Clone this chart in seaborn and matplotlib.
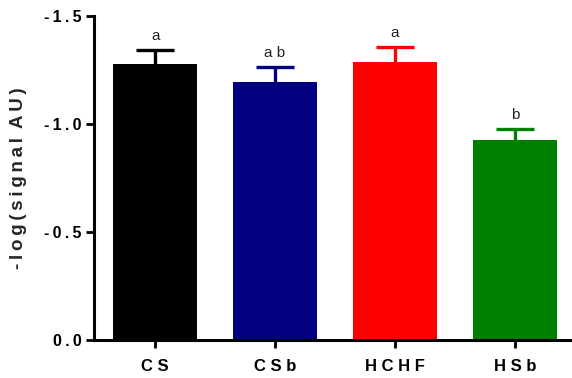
import matplotlib
matplotlib.use("Agg")
import matplotlib.pyplot as plt
import seaborn as sns
import pandas as pd
import numpy as np

# Group means of -log(signal) and their standard errors
groups = ["C S", "C S b", "H C H F", "H S b"]
means = [-1.278, -1.194, -1.287, -0.926]
sems = [0.066, 0.070, 0.070, 0.051]
letters = ["a", "a b", "a", "b"]
colors = ["#000000", "#000080", "#FF0000", "#008000"]

TS = "\u2009"  # thin space used for letter tracking
yticks = [0.0, -0.5, -1.0, -1.5]
ytick_labels = [TS.join(s) for s in ["0.0", "-0.5", "-1.0", "-1.5"]]
ylabel = TS.join("-log(signal") + " " + TS + TS.join("AU)")

sns.set_theme(style="ticks")
plt.rcParams["font.family"] = ["Liberation Sans", "DejaVu Sans"]

df = pd.DataFrame({"group": groups, "value": means})

fig = plt.figure(figsize=(5.72, 3.78), dpi=100)
ax = fig.add_axes([94 / 572, 38 / 378, 476 / 572, 324 / 378])

sns.barplot(data=df, x="group", y="value", hue="group", palette=colors,
            legend=False, errorbar=None, width=0.7, saturation=1,
            linewidth=0, ax=ax)

# one-sided error bars extending away from zero
xpos = np.arange(len(groups))
for x, m, s, c in zip(xpos, means, sems, colors):
    _, caps, _ = ax.errorbar(x, m, yerr=[[s], [0]], fmt="none", ecolor=c,
                             elinewidth=2.4, capsize=14, capthick=2.4,
                             zorder=0.5)
    for cap in caps:
        if np.isclose(cap.get_ydata()[0], m):
            cap.set_visible(False)

for x, m, s, lab in zip(xpos, means, sems, letters):
    ax.annotate(lab, (x, m - s), xytext=(0, 5), textcoords="offset points",
                ha="center", va="bottom", fontsize=11, color="#222222")

ax.set_ylim(0, -1.5)
ax.set_xlim(-0.51, 3.46)
ax.set_yticks(yticks)
ax.set_yticklabels(ytick_labels)
ax.set_xticks(xpos)
ax.set_xticklabels(groups)
for t in ax.get_yticklabels():
    t.set_fontsize(11.5)
    t.set_fontweight("bold")
for t in ax.get_xticklabels():
    t.set_fontsize(12)
    t.set_fontweight("bold")
ax.set_xlabel("")
ax.set_ylabel(ylabel, fontsize=13.5, fontweight="bold", labelpad=12)

sns.despine(ax=ax)
for side in ["left", "bottom"]:
    ax.spines[side].set_linewidth(2.2)
    ax.spines[side].set_color("black")
ax.tick_params(axis="both", length=6, width=2.0, color="black",
               labelcolor="black")
ax.tick_params(axis="x", pad=8)
ax.tick_params(axis="y", pad=3)

fig.savefig("out.png", dpi=100)
